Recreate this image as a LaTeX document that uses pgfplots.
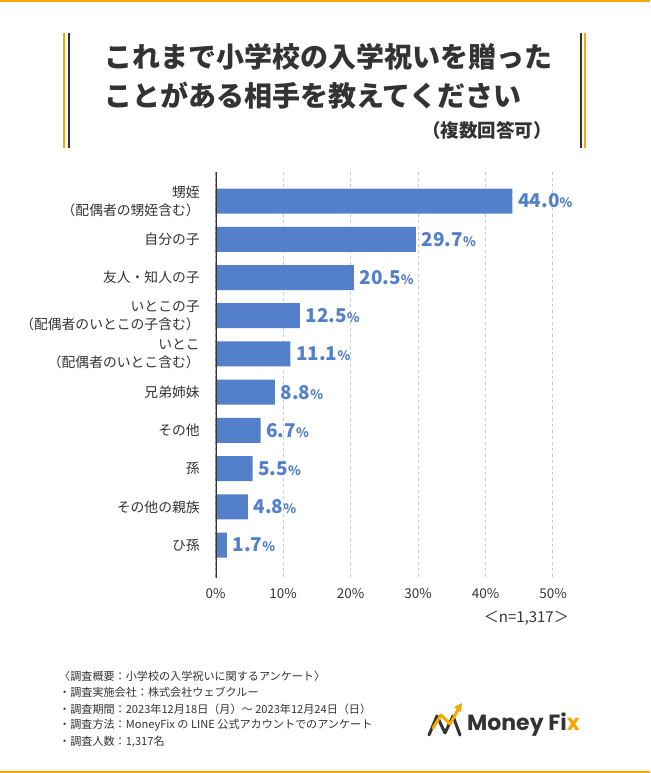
\documentclass[border=0pt]{standalone}
\usepackage{fontspec}
\setmainfont{Noto Sans CJK JP}
\newfontfamily\pop{Poppins}
\usepackage{pgfplots}
\pgfplotsset{compat=1.18}
\definecolor{barblue}{HTML}{5480CB}
\definecolor{txt}{HTML}{333333}
\definecolor{orng}{HTML}{F5A800}
\definecolor{gridc}{HTML}{C8C8C8}
\begin{document}
\begin{tikzpicture}[x=1pt,y=1pt]
\fill[white] (0,0) rectangle (650,773);
\fill[orng] (0,771) rectangle (650,773);
\fill[orng] (0,0) rectangle (650,2);
% title frame
\draw[orng, line width=1.2pt] (64,740) -- (64,625);
\draw[txt, line width=1.2pt] (69,740) -- (69,625);
\draw[txt, line width=1.2pt] (581,740) -- (581,625);
\draw[orng, line width=1.2pt] (585,740) -- (585,625);
\node[anchor=west, inner sep=0, text=txt, font=\bfseries\fontsize{28}{32}\selectfont] at (104,716) {これまで小学校の入学祝いを贈った};
\node[anchor=west, inner sep=0, text=txt, font=\bfseries\fontsize{28}{32}\selectfont] at (104,677) {ことがある相手を教えてください};
\node[anchor=east, inner sep=0, text=txt, font=\bfseries\fontsize{18.5}{22}\selectfont] at (552,643) {（複数回答可）};
\begin{axis}[
  at={(215.5pt,195pt)}, anchor=south west,
  scale only axis, width=337.5pt, height=406pt,
  xmin=0, xmax=50, ymin=-0.76, ymax=9.86, y dir=reverse,
  xbar, bar width=25pt,
  axis line style={draw=none}, tick style={draw=none},
  /pgf/number format/assume math mode=true,
  xtick={0,10,20,30,40,50},
  xticklabel={\pgfmathprintnumber{\tick}\%},
  xticklabel style={text=txt, font=\fontsize{13.5}{15}\selectfont, yshift=-7pt},
  xmajorgrids, grid style={gridc, dashed, line width=1pt},
  ytick={0,1,2,3,4,5,6,7,8,9},
  yticklabels={{甥姪\\（配偶者の甥姪含む）},{自分の子},{友人・知人の子},{いとこの子\\（配偶者のいとこの子含む）},{いとこ\\（配偶者のいとこ含む）},{兄弟姉妹},{その他},{孫},{その他の親族},{ひ孫}},
  yticklabel style={align=right, text=txt, font=\fontsize{13.8}{18}\selectfont, xshift=-8pt},
  nodes near coords={\pgfmathprintnumber[fixed,fixed zerofill,precision=1]{\pgfplotspointmeta}{\fontsize{13}{14}\selectfont\%}},
  nodes near coords style={anchor=west, text=barblue, font=\bfseries\fontsize{19}{20}\selectfont, inner sep=5.5pt},
]
\addplot[fill=barblue, draw=none] coordinates {(44.0,0) (29.7,1) (20.5,2) (12.5,3) (11.1,4) (8.8,5) (6.7,6) (5.5,7) (4.8,8) (1.7,9)};
\draw[txt, line width=3pt] (axis cs:0,-0.76) -- (axis cs:0,9.86);
\end{axis}
\node[anchor=east, inner sep=0, text=txt, font=\fontsize{15}{17}\selectfont] at (569,155) {＜n=1,317＞};
% footer
\begin{scope}[every node/.style={anchor=west, inner sep=0, text=txt, font=\fontsize{11.1}{12}\selectfont}]
\node at (59,97) {〈調査概要：小学校の入学祝いに関するアンケート〉};
\node at (59,81) {・調査実施会社：株式会社ウェブクルー};
\node at (59,64) {・調査期間：2023年12月18日（月）～ 2023年12月24日（日）};
\node at (59,48) {・調査方法：MoneyFix の LINE 公式アカウントでのアンケート};
\node at (59,31) {・調査人数：1,317名};
\end{scope}
% logo
\draw[txt, line width=3pt, line cap=round, line join=round] (429,38) -- (437,57) -- (445,40) -- (453,57) -- (460,38);
\draw[orng, line width=3pt, line cap=round, line join=round] (433,45) -- (441,58) -- (450,49) -- (459,65);
\fill[orng] (462,70) -- (454,66) -- (461,61) -- cycle;
\node[anchor=west, inner sep=0, text=txt, font=\pop\bfseries\fontsize{22}{24}\selectfont] at (467,48) {Money Fi\textcolor{orng}{x}};
\end{tikzpicture}
\end{document}
